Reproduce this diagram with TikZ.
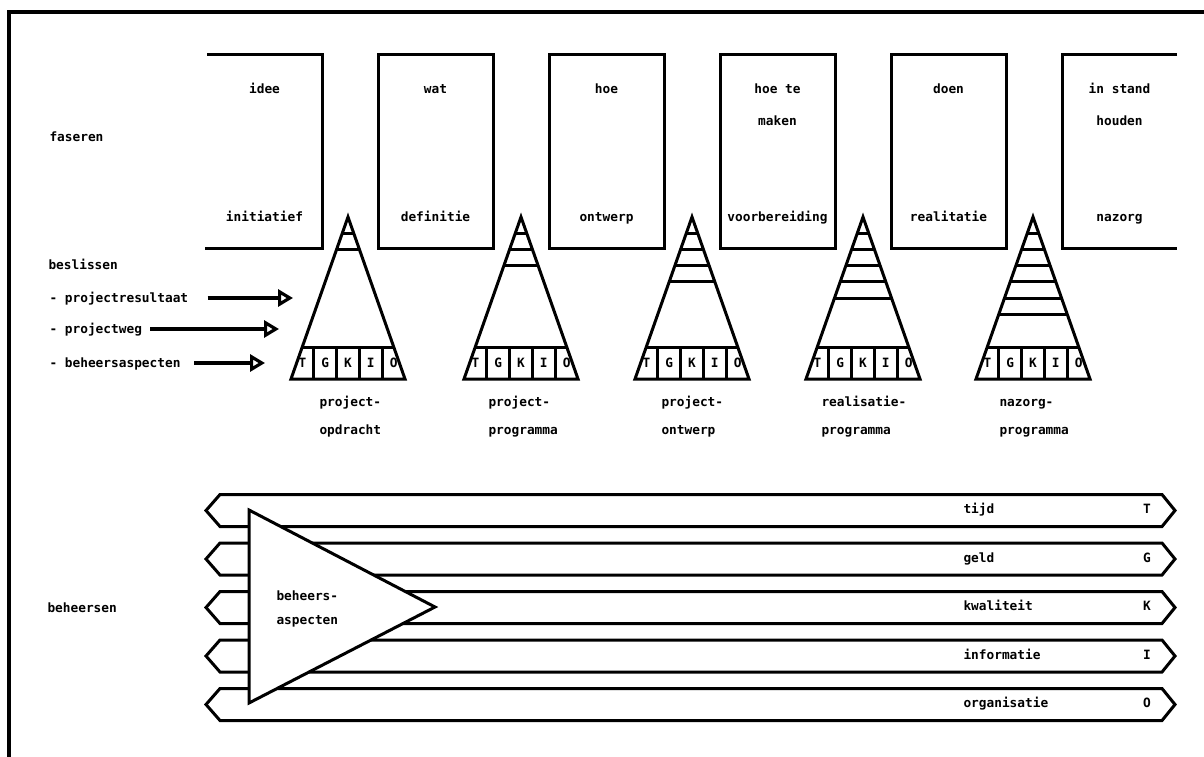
\documentclass[tikz,border=0pt]{standalone}
\usepackage{fontspec}
\setmonofont{DejaVu Sans Mono}
\usetikzlibrary{arrows.meta}
\begin{document}
\begin{tikzpicture}[x=1pt,y=-1pt,line width=3pt,
  txt/.style={font=\ttfamily\bfseries\fontsize{12.8}{14}\selectfont, inner sep=0pt, text height=9pt, text depth=2.5pt},
  lt/.style={txt, anchor=west},
  phase/.style={draw, minimum width=115pt, minimum height=193pt, inner sep=0pt},
  arr/.style={line width=3.2pt, -{Triangle[open,length=15pt,width=17pt,line width=3.2pt]}}]
\useasboundingbox (0,0) rectangle (1204,757);
% frame
\draw[line width=3.4pt] (9,757) -- (9,12) -- (1204,12);

% left labels
\node[lt] (faseren) at (48,138) {faseren};
\node[lt] (beslissen) at (47,266) {beslissen};
\node[lt] (pr) at (48,299) {- projectresultaat};
\node[lt] (pw) at (48,330) {- projectweg};
\node[lt] (ba) at (48,364) {- beheersaspecten};
\node[lt] (beheersen) at (46,609) {beheersen};

% arrows
\coordinate (a1e) at (293,298);
\coordinate (a2e) at (279,329);
\coordinate (a3e) at (265,363);
\draw[arr] ([xshift=18pt,yshift=1pt]pr.east) -- (a1e);
\draw[arr] ([xshift=7pt,yshift=1pt]pw.east) -- (a2e);
\draw[arr] ([xshift=12pt,yshift=1pt]ba.east) -- (a3e);

% phase boxes
\draw (207,55) -- (322,55) -- (322,248) -- (205,248);
\node[phase] (box2) at (435.5,151.5) {};
\node[phase] (box3) at (606.5,151.5) {};
\node[phase] (box4) at (777.5,151.5) {};
\node[phase] (box5) at (948.5,151.5) {};
\draw (1177,55) -- (1062,55) -- (1062,248) -- (1177,248);

\node[txt] (t1a) at (264.5,90) {idee};
\node[txt] (t1b) at (264.5,218) {initiatief};
\node[txt] (t2a) at (435.5,90) {wat};
\node[txt] (t2b) at (435.5,218) {definitie};
\node[txt] (t3a) at (606.5,90) {hoe};
\node[txt] (t3b) at (606.5,218) {ontwerp};
\node[txt] (t4a) at (777.5,90) {hoe te};
\node[txt] (t4c) at (777.5,122) {maken};
\node[txt] (t4b) at (777.5,218) {voorbereiding};
\node[txt] (t5a) at (948.5,90) {doen};
\node[txt] (t5b) at (948.5,218) {realitatie};
\node[txt] (t6a) at (1119.5,90) {in stand};
\node[txt] (t6c) at (1119.5,122) {houden};
\node[txt] (t6b) at (1119.5,218) {nazorg};

% decision triangles
\foreach \cx/\n in {348/1,521/2,692/3,863/4,1033/5}{
  \draw (\cx-57,379) -- (\cx,217) -- (\cx+57,379) -- cycle;
  \draw (\cx-45.7,347) -- (\cx+45.7,347);
  \foreach \j in {1,...,4} \draw (\cx-57+22.8*\j,347) -- (\cx-57+22.8*\j,379);
  \foreach \m in {0,...,\n} {
    \pgfmathsetmacro\yy{233+16.3*\m}
    \pgfmathsetmacro\hw{57*(\yy-217)/162}
    \draw (\cx-\hw,\yy) -- (\cx+\hw,\yy);
  }
  \foreach \L [count=\j from 0] in {T,G,K,I,O}
    \node[txt] (L\n\L) at (\cx-45.6+22.8*\j,364) {\L};
}

% captions
\node[lt] (c1a) at (318,403) {project-};
\node[lt] (c1b) at (318,431) {opdracht};
\node[lt] (c2a) at (487,403) {project-};
\node[lt] (c2b) at (487,431) {programma};
\node[lt] (c3a) at (660,403) {project-};
\node[lt] (c3b) at (660,431) {ontwerp};
\node[lt] (c4a) at (820,403) {realisatie-};
\node[lt] (c4b) at (820,431) {programma};
\node[lt] (c5a) at (998,403) {nazorg-};
\node[lt] (c5b) at (998,431) {programma};

% control bands
\foreach \t/\lab/\L [count=\j] in {494.5/tijd/T, 543/geld/G, 591.5/kwaliteit/K, 640/informatie/I, 688.5/organisatie/O}{
  \draw (220,\t) -- (1162,\t) -- (1175,\t+16) -- (1162,\t+32) -- (220,\t+32) -- (206,\t+16) -- cycle;
  \node[lt] (band\j) at (962,\t+16) {\lab};
  \node[txt] (bandL\j) at (1147,\t+16) {\L};
}
\draw[fill=white] (249,510) -- (435,607) -- (249,703) -- cycle;
\node[lt] (bh1) at (275,597) {beheers-};
\node[lt] (bh2) at (275,621) {aspecten};
\end{tikzpicture}
\end{document}
